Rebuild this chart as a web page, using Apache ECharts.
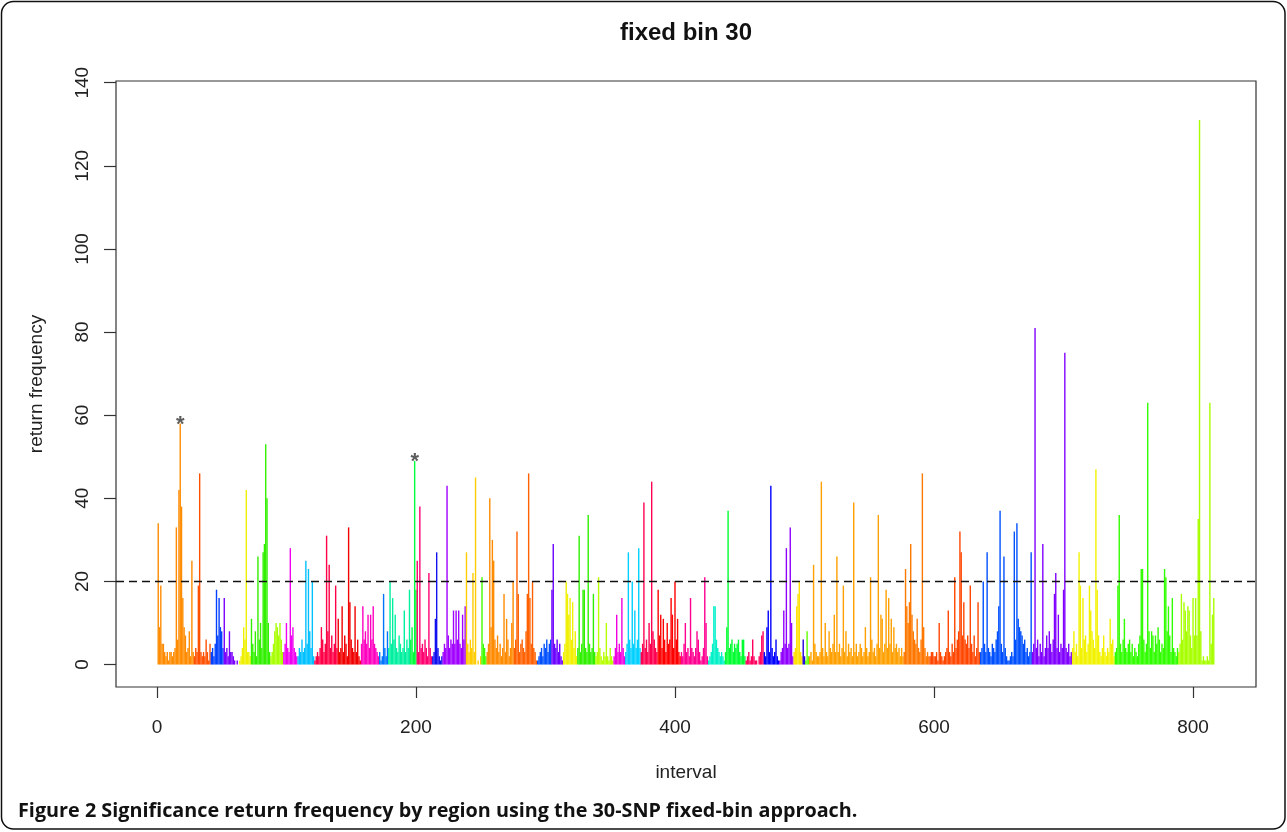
<!DOCTYPE html>
<html>
<head>
<meta charset="utf-8">
<title>fixed bin 30</title>
<script src="https://cdn.jsdelivr.net/npm/echarts@6.0.0/dist/echarts.min.js"></script>
<style>
  html, body { margin: 0; padding: 0; background: #fff; }
  #chart { width: 1287px; height: 832px; }
</style>
</head>
<body>
<div id="chart"></div>
<script>
// return frequency for intervals 1..816, one line per region
const freq = [
  34,9,19,5,5,3,2,3,1,3,3,2,3,4,33,6,42,58,38,16,9,7,3,4,8,2,25,3,   // 1
  2,4,3,19,46,3,2,3,2,6,3,1,5,                                       // 29
  3,4,2,5,18,7,16,9,8,4,                                             // 42
  16,3,4,2,8,3,3,2,1,0,1,0,                                          // 52
  1,2,4,9,6,42,3,3,2,                                                // 64
  11,5,3,8,2,26,6,10,4,27,29,53,40,10,3,                             // 73
  2,3,5,8,10,9,7,10,6,3,                                             // 88
  3,5,10,4,3,28,7,9,4,3,2,                                           // 98
  2,4,3,6,3,4,25,5,23,8,4,20,2,                                      // 109
  1,2,3,2,4,9,6,3,5,31,8,24,4,7,3,5,19,4,                            // 122
  11,3,4,14,3,7,5,2,33,15,6,4,3,14,3,6,2,1,                          // 140
  5,14,6,8,5,12,4,12,6,14,5,4,3,2,                                   // 158
  3,1,2,17,4,2,8,                                                    // 172
  4,20,5,16,6,12,4,3,7,5,3,4,13,3,6,4,18,                            // 179
  6,9,3,49,18,                                                       // 196
  25,3,38,4,5,3,6,4,2,22,4,2,                                        // 201
  2,3,11,27,4,2,1,2,                                                 // 213
  3,5,4,43,7,4,6,5,13,5,13,6,13,5,4,12,6,14,                         // 221
  27,5,3,6,4,22,3,45,0,1,0,2,                                        // 239
  21,5,4,2,                                                          // 251
  3,5,40,9,30,25,6,4,7,3,5,2,4,17,3,11,6,2,4,10,20,                  // 255
  4,6,32,17,3,5,6,4,3,8,17,46,16,5,20,4,3,1,                         // 276
  1,2,3,4,2,5,4,6,3,5,6,                                             // 294
  18,29,5,4,6,3,5,2,1,                                               // 305
  3,5,20,17,12,16,6,15,4,8,2,                                        // 314
  4,31,3,5,18,18,4,3,36,5,3,4,17,3,                                  // 325
  2,3,21,4,2,1,3,2,10,2,1,4,2,1,                                     // 339
  2,4,12,3,5,3,16,4,2,                                               // 353
  3,5,27,6,4,20,5,13,4,6,28,4,                                       // 362
  3,5,39,4,6,3,10,5,44,8,6,4,3,                                      // 374
  18,7,12,4,11,6,3,10,5,6,16,12,4,20,6,11,3,2,                       // 387
  3,2,5,10,3,4,2,16,4,3,2,4,8,6,3,1,2,4,21,10,2,                     // 405
  1,2,3,5,14,14,6,4,3,2,3,2,1,                                       // 426
  3,9,37,4,5,6,3,5,4,5,6,3,2,6,6,2,                                  // 439
  1,2,3,1,2,6,2,1,1,0,2,3,7,8,                                       // 455
  3,2,9,13,3,43,4,2,3,6,2,1,                                         // 469
  1,3,4,13,5,28,4,5,33,10,2,                                         // 481
  3,4,14,17,20,3,2,                                                  // 492
  6,2,                                                               // 499
  1,8,2,                                                             // 501
  2,3,1,24,5,3,2,2,3,44, 4,2,10,3,2,8,4,3,5,12,                      // 504
  3,26,3,5,2,4,19,3,8,2, 5,3,4,2,39,3,5,2,3,5,
  4,2,3,9,4,2,3,21,6,3, 4,2,5,36,4,12,11,3,5,18,
  4,16,5,11,3,9,4,5,3,4, 2,4,2,
  3,23,14,10,15,29,12,8,6,5,11,4,3,6,46,9,4,2,3,2,                   // 577
  2,3,3,2,2,3,1,10,3,2, 1,2,3,4,13,3,2,5,3,21,                       // 597
  4,6,8,32,27,7,15,6,5,7, 4,19,5,3,7,2,4,15,3,
  3,4,20,5,3,27,4,3,2,5, 4,3,6,8,14,37,5,3,26,4,                     // 636
  2,1,1,2,3,2,32,6,34,11, 9,8,7,5,6,3,4,2,3,27,
  3,5,81,4,6,2,5,3,29,2, 4,7,4,8,5,3,6,17,22,4,                      // 676
  12,3,5,4,18,75,4,3,5,2, 3,
  4,8,3,5,2,27,19,4,16,6, 7,3,5,19,13,8,6,4,47,18,                   // 707
  7,3,2,4,7,3,2,4,3,11, 5,6,2,
  3,4,19,36,5,3,6,11,4,3, 5,6,3,5,2,4,3,2,5,7,                       // 740
  23,23,6,3,5,63,8,4,8,7, 3,7,5,9,6,3,5,4,23,21,
  8,14,7,3,16,4,3,2,4,
  3,5,17,6,15,13,8,14,13,7, 4,16,7,16,7,35,131,8,1,2,                // 789
  1,1,2,1,63,5,12,16
];
// first interval of each coloured region
const regionStart = [1,29,42,52,64,73,88,98,109,122,140,158,172,179,196,201,213,221,239,251,
  255,276,294,305,314,325,339,353,362,374,387,405,426,439,455,469,481,492,499,501,504,577,
  597,636,676,707,740,789];
const xTicks = [0, 200, 400, 600, 800];
const yTicks = [0, 20, 40, 60, 80, 100, 120, 140];
const threshold = 20;
const starred = [18, 199];

const palette = ['#FF8B00','#FF5000','#0040FF','#7A00FF','#EEF000','#30F000','#A8FF00','#F000F0',
  '#00C0FF','#FF0046','#F00000','#FF00C0','#0074FF','#00F0A0','#00FF3C','#FF0070','#1010F0',
  '#A000FF','#FFCC00','#40FF00','#FF8B00','#FF6000','#0050FF','#6A00FF','#F0F000','#30F000',
  '#B8FF00','#F000E0','#00D0FF','#FF0050','#FF0000','#FF0090','#00F0C8','#00FF30','#FF0060',
  '#0000FF','#9000FF','#FFE000','#2000E0','#60FF00','#FFA000','#FF7800','#FF4600','#0050FF',
  '#8000FF','#F2F200','#30FF00','#A8FF00'];

function regionOf(x) {
  let k = 0;
  while (k + 1 < regionStart.length && x >= regionStart[k + 1]) k++;
  return k;
}

const font = 'Liberation Sans';
const chart = echarts.init(document.getElementById('chart'));
chart.setOption({
  animation: false,
  backgroundColor: '#fff',
  grid: { left: 116, top: 81, right: 31, bottom: 145, show: true, borderColor: '#333', borderWidth: 1.2 },
  xAxis: {
    type: 'value', min: -31.6, max: 848.6,
    axisLine: { show: false, onZero: false }, splitLine: { show: false },
    axisTick: { show: true, length: 11, customValues: xTicks, lineStyle: { color: '#333', width: 1.2 } },
    axisLabel: { customValues: xTicks, margin: 31, fontSize: 19, color: '#222', fontFamily: font },
    name: 'interval', nameLocation: 'middle', nameGap: 76,
    nameTextStyle: { fontSize: 19, color: '#222', fontFamily: font }
  },
  yAxis: {
    type: 'value', min: -5.4, max: 140.4,
    axisLine: { show: false, onZero: false }, splitLine: { show: false },
    axisTick: { show: true, length: 12, customValues: yTicks, lineStyle: { color: '#333', width: 1.2 } },
    axisLabel: { customValues: yTicks, rotate: 90, margin: 24, fontSize: 19, color: '#222', fontFamily: font },
    name: 'return frequency', nameLocation: 'middle', nameGap: 70, nameRotate: 90,
    nameTextStyle: { fontSize: 19, color: '#222', fontFamily: font }
  },
  series: [
    {
      type: 'bar',
      data: freq.map((v, i) => [i + 1, v]),
      barWidth: 1.4,
      itemStyle: { color: p => palette[regionOf(p.data[0])] },
      markLine: {
        silent: true, symbol: 'none', label: { show: false },
        lineStyle: { color: '#111', type: [8, 5], width: 1.4 },
        data: [{ yAxis: threshold }]
      }
    },
    {
      type: 'scatter',
      data: starred.map(x => [x, freq[x - 1]]),
      symbolSize: 0,
      label: {
        show: true, formatter: '*', position: 'top', distance: -12,
        fontSize: 22, fontWeight: 'bold', color: '#333', fontFamily: font
      }
    }
  ],
  graphic: [
    { type: 'rect', shape: { x: 1.5, y: 1.5, width: 1283.5, height: 827.5, r: 12 },
      style: { fill: 'none', stroke: '#111', lineWidth: 1.5 } },
    { type: 'text', x: 686, y: 33,
      style: { text: 'fixed bin 30', fill: '#111', font: 'bold 24px "Liberation Sans"',
               textAlign: 'center', textVerticalAlign: 'middle' } },
    { type: 'text', x: 18, y: 811,
      style: { text: 'Figure 2 Significance return frequency by region using the 30-SNP fixed-bin approach.',
               fill: '#111', font: 'bold 19.8px "Open Sans"', textVerticalAlign: 'middle' } }
  ]
});
</script>
</body>
</html>
